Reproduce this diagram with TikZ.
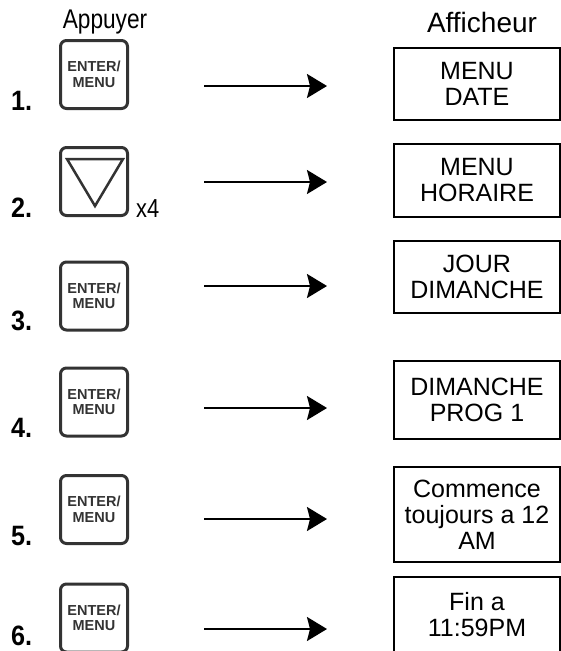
\documentclass[tikz,border=0pt]{standalone}
\usepackage{fontspec}
\setmainfont{Liberation Sans}
\usepackage{tikz}
\usetikzlibrary{arrows.meta}

\begin{document}
\begin{tikzpicture}[x=1pt, y=-1pt,
  btn/.style={draw=black!80, line width=3pt, rounded corners=6pt, minimum width=67pt, minimum height=68pt, inner sep=0pt, align=center, text=black!80, font=\fontsize{14.5}{15.5}\selectfont\bfseries},
  disp/.style={draw, line width=1.5pt, minimum width=166pt, inner sep=0pt, align=center, font=\fontsize{25}{26}\selectfont},
  num/.style={anchor=base west, inner sep=0pt, font=\fontsize{28}{28}\selectfont\bfseries},
  arr/.style={line width=2pt, -{Stealth[length=20pt, width=24pt, inset=3pt]}}]
\useasboundingbox (0,0) rectangle (561,651);
\clip (0,0) rectangle (561,651);

\node[font=\fontsize{27}{27}\selectfont] (appuyer) at (105,22) {\scalebox{0.84}[1]{Appuyer}};
\node[font=\fontsize{28}{28}\selectfont] (afficheur) at (482,22) {Afficheur};

\node[btn] (btn1) at (94,74.5) {ENTER/\\MENU};
\node[btn] (btn2) at (94,181.5) {};
\node[btn] (btn3) at (94,296) {ENTER/\\MENU};
\node[btn] (btn4) at (94,402) {ENTER/\\MENU};
\node[btn] (btn5) at (94,509.5) {ENTER/\\MENU};
\node[btn] (btn6) at (94,618) {ENTER/\\MENU};
\draw[draw=black!80, line width=2.5pt] (67,159)--(123,159)--(95,206)--cycle;
\node[anchor=base west, inner sep=0pt, font=\fontsize{26}{26}\selectfont] (times) at (136,217) {\scalebox{0.84}[1]{x4}};

\node[num] (num1) at (11,110) {\scalebox{0.9}[1]{1.}};
\node[num] (num2) at (11,217) {\scalebox{0.9}[1]{2.}};
\node[num] (num3) at (11,330) {\scalebox{0.9}[1]{3.}};
\node[num] (num4) at (11,437) {\scalebox{0.9}[1]{4.}};
\node[num] (num5) at (11,545) {\scalebox{0.9}[1]{5.}};
\node[num] (num6) at (11,645) {\scalebox{0.9}[1]{6.}};

\node[disp, minimum height=72pt] (disp1) at (477,84) {MENU\\DATE};
\node[disp, minimum height=73pt] (disp2) at (477,180.5) {MENU\\HORAIRE};
\node[disp, minimum height=72pt] (disp3) at (477,277) {JOUR\\DIMANCHE};
\node[disp, minimum height=78pt] (disp4) at (477,400) {DIMANCHE\\PROG 1};
\node[disp, minimum height=95pt] (disp5) at (477,514.5) {Commence\\toujours a 12\\AM};
\node[disp, minimum height=76pt] (disp6) at (477,615) {Fin a\\11:59PM};

\coordinate (a1) at (204,86);  \coordinate (b1) at (327,86);
\coordinate (a2) at (204,182); \coordinate (b2) at (327,182);
\coordinate (a3) at (204,286); \coordinate (b3) at (327,286);
\coordinate (a4) at (204,408); \coordinate (b4) at (327,408);
\coordinate (a5) at (204,519); \coordinate (b5) at (327,519);
\coordinate (a6) at (204,629); \coordinate (b6) at (327,629);

\draw[arr] (a1)--(b1);
\draw[arr] (a2)--(b2);
\draw[arr] (a3)--(b3);
\draw[arr] (a4)--(b4);
\draw[arr] (a5)--(b5);
\draw[arr] (a6)--(b6);
\end{tikzpicture}
\end{document}
